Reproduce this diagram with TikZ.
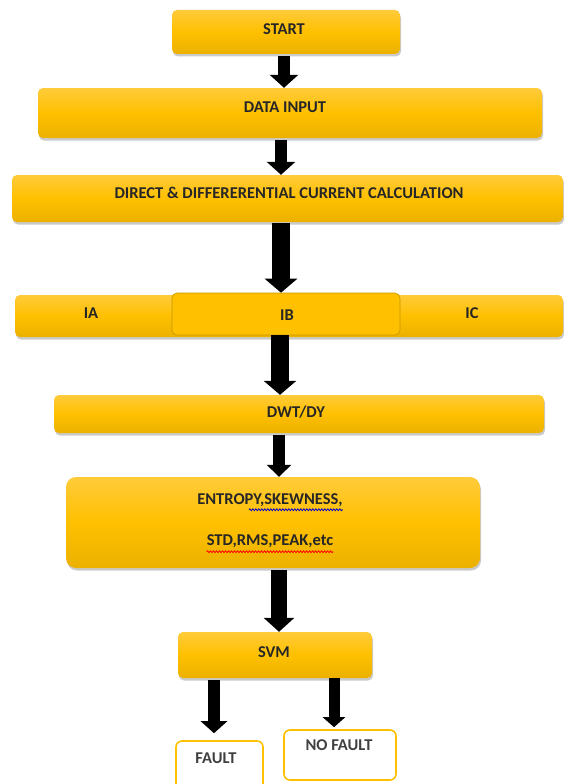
\documentclass[tikz,border=0pt]{standalone}
\usepackage{fontspec}
\setmainfont{Carlito}
\usetikzlibrary{shadows,arrows.meta,decorations.pathmorphing,calc}
\definecolor{gold}{HTML}{FFC000}
\definecolor{goldtop}{HTML}{FFCB3A}
\definecolor{goldbot}{HTML}{EBB100}
\definecolor{golddark}{HTML}{C89600}
\begin{document}
\begin{tikzpicture}[x=1pt,y=-1pt,
  goldbox/.style={rectangle, rounded corners=5pt, top color=goldtop, bottom color=goldbot, middle color=gold,
    drop shadow={shadow xshift=1pt, shadow yshift=-2.5pt, opacity=0.35, fill=black!60},
    inner sep=0pt},
  outbox/.style={rectangle, rounded corners=6pt, draw=gold, line width=1.6pt, fill=white, inner sep=0pt},
  lbl/.style={font=\bfseries\fontsize{16.5}{19}\selectfont, text=black!85, inner sep=0pt},
  flow/.style={line width=#1, -{Triangle[length=13pt,width=28pt]}},
  wavy/.style={decorate, decoration={snake, amplitude=0.9pt, segment length=3pt}, line width=0.8pt}
]
\useasboundingbox (0,0) rectangle (563,784);

\node[goldbox, minimum width=228pt, minimum height=44pt] (start) at (286,32) {};
\node[lbl] (starttxt) at (284,29) {START};
\node[goldbox, minimum width=504pt, minimum height=50pt] (data) at (290,113) {};
\node[lbl] (datatxt) at (285,107) {DATA INPUT};
\node[goldbox, minimum width=551pt, minimum height=47pt] (direct) at (287.5,198.5) {};
\node[lbl] (directtxt) at (289,193) {DIRECT \& DIFFERERENTIAL CURRENT CALCULATION};
\node[goldbox, minimum width=548pt, minimum height=42pt] (bar) at (289,316) {};
\node[lbl] (ia) at (91,313) {IA};
\node[lbl] (ic) at (472,313) {IC};
\node[rectangle, rounded corners=5pt, fill=gold, draw=golddark, line width=0.6pt, minimum width=228pt, minimum height=42pt, inner sep=0pt] (ib) at (286,314) {};
\node[lbl] (ibtxt) at (287,315) {IB};
\node[goldbox, minimum width=490pt, minimum height=38pt] (dwt) at (299,414) {};
\node[lbl] (dwttxt) at (296,412) {DWT/DY};
\node[goldbox, rounded corners=10pt, minimum width=414pt, minimum height=91pt] (entropy) at (273,522.5) {};
\node[lbl] (e1) at (270,500) {ENTROPY,SKEWNESS,};
\node[lbl] (e2) at (270,541) {STD,RMS,PEAK,etc};
\node[goldbox, minimum width=194pt, minimum height=46pt] (svm) at (275,655) {};
\node[lbl] (svmtxt) at (274,652) {SVM};
\node[outbox, minimum width=87pt, minimum height=50pt] (fault) at (219.5,766) {};
\node[lbl, text=black!75] (faulttxt) at (216,758) {FAULT};
\node[outbox, minimum width=112pt, minimum height=50pt] (nofault) at (340,755) {};
\node[lbl, text=black!75] (nofaulttxt) at (339,745) {NO FAULT};

\draw[blue!80!black, wavy] ($(e1.south east)+(-94,3)$) -- ($(e1.south east)+(0,3)$);
\draw[red, wavy] ($(e2.south west)+(0,4)$) -- ($(e2.south east)+(0,4)$);

\draw[flow=12pt, shorten <=2pt] (start.south -| 284,0) -- (data.north -| 284,0);
\draw[flow=12pt, shorten <=2pt] (data.south -| 281,0) -- (direct.north -| 281,0);
\draw[flow=18pt, -{Triangle[length=14pt,width=32pt]}, shorten <=1pt] (direct.south -| 281,0) -- (ib.north -| 281,0);
\draw[flow=18pt, -{Triangle[length=14pt,width=32pt]}] (ib.south -| 280,0) -- (dwt.north -| 280,0);
\draw[flow=12pt, -{Triangle[length=12pt,width=24pt]}, shorten <=2pt] (dwt.south -| 279,0) -- (entropy.north -| 279,0);
\draw[flow=16pt, -{Triangle[length=14pt,width=30pt]}, shorten <=2pt] (entropy.south -| 279,0) -- (svm.north -| 279,0);
\draw[flow=12pt, -{Triangle[length=12pt,width=26pt]}, shorten <=2pt, shorten >=7pt] (svm.south -| 214,0) -- (fault.north -| 214,0);
\draw[flow=11pt, -{Triangle[length=10pt,width=22pt]}, shorten >=2pt] (svm.south -| 334,0) -- (nofault.north -| 334,0);
\end{tikzpicture}
\end{document}
